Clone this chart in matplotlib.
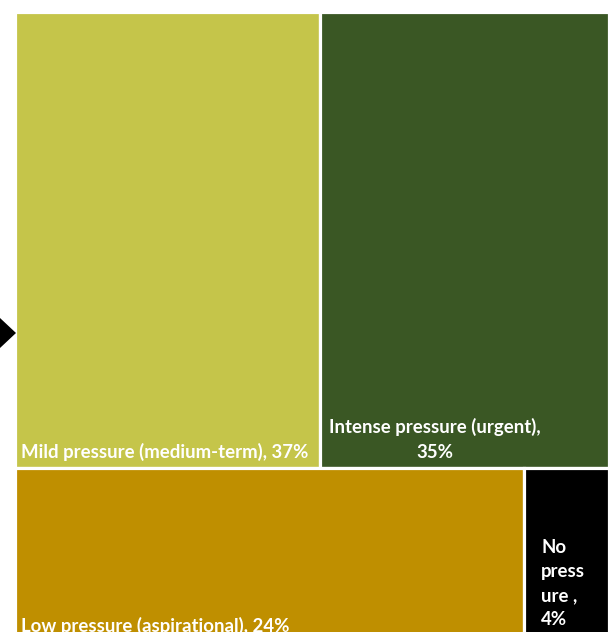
import matplotlib
matplotlib.use("Agg")
import matplotlib.pyplot as plt
from matplotlib.patches import Rectangle, Polygon

# treemap data, two rows as laid out in the chart
row1_labels = ["Mild pressure (medium-term), 37%", "Intense pressure (urgent),\n35%"]
row1_values = [37, 35]
row1_colors = ["#C5C54A", "#3A5724"]
row2_labels = ["Low pressure (aspirational), 24%", "No\npress\nure ,\n4%"]
row2_values = [24, 4]
row2_colors = ["#BF8F00", "#000000"]

W, H = 611, 632
fig = plt.figure(figsize=(W / 100, H / 100), dpi=100)
ax = fig.add_axes([14.5 / W, -14 / H, 594 / W, 634.5 / H])
ax.set_xlim(0, 1)
ax.set_ylim(1, 0)
ax.axis("off")

plt.rcParams["font.family"] = ["Lato", "DejaVu Sans"]
fs = 13.4

total = sum(row1_values) + sum(row2_values)
rows = [(row1_labels, row1_values, row1_colors), (row2_labels, row2_values, row2_colors)]
y0 = 0
for r, (labels, values, colors) in enumerate(rows):
    rh = sum(values) / total
    x0 = 0
    for i, (lab, v, c) in enumerate(zip(labels, values, colors)):
        w = v / sum(values)
        ax.add_patch(Rectangle((x0, y0), w, rh, facecolor=c, edgecolor="white", linewidth=2.3))
        if c == "#000000":
            ax.annotate(lab, (x0, y0), xytext=(12.5, -51), textcoords="offset points",
                        ha="left", va="top", color="white", fontsize=fs, fontweight="bold",
                        linespacing=1.5)
        elif "\n" in lab:
            ax.annotate(lab, (x0, y0 + rh), xytext=(6.5, 7.5), textcoords="offset points",
                        ha="left", va="baseline", multialignment="center", color="white",
                        fontsize=fs, fontweight="bold", linespacing=1.55)
        elif r == 1:
            ax.annotate(lab, (x0, y0 + rh), xytext=(5, 10), textcoords="offset points",
                        ha="left", va="baseline", color="white", fontsize=fs, fontweight="bold")
        else:
            ax.annotate(lab, (x0, y0 + rh), xytext=(5, 7.5), textcoords="offset points",
                        ha="left", va="baseline", color="white", fontsize=fs, fontweight="bold")
        x0 += w
    y0 += rh

# pointer arrow on the left edge
tri = Polygon([(0, H - 318), (16, H - 333), (0, H - 348)], closed=True,
              facecolor="black", edgecolor="none", transform=None)
fig.patches.append(tri)

fig.savefig("out.png", dpi=100)
